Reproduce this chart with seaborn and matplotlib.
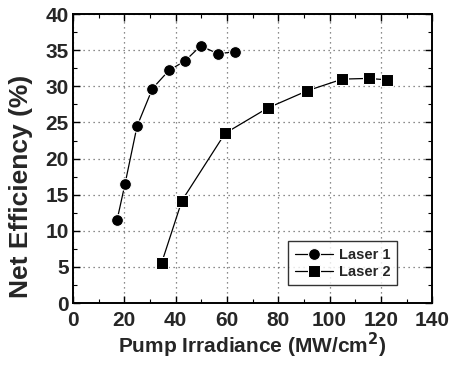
import matplotlib
matplotlib.use("Agg")
import matplotlib.pyplot as plt
from matplotlib.ticker import MultipleLocator
import seaborn as sns
import pandas as pd

sns.set_theme(style="ticks")
plt.rcParams['font.family'] = ['Liberation Sans', 'DejaVu Sans']
plt.rcParams['font.weight'] = 'bold'

# values
laser1_x = [17.2, 20.3, 25.0, 31.0, 37.4, 43.6, 49.8, 56.6, 63.0]
laser1_y = [11.5, 16.5, 24.5, 29.7, 32.2, 33.5, 35.6, 34.5, 34.8]
laser2_x = [34.6, 42.5, 59.3, 75.9, 91.4, 105.0, 115.2, 122.3]
laser2_y = [5.6, 14.2, 23.5, 27.0, 29.4, 31.0, 31.1, 30.9]

df = pd.concat([
    pd.DataFrame({'irr': laser1_x, 'eff': laser1_y, 'Laser': 'Laser 1'}),
    pd.DataFrame({'irr': laser2_x, 'eff': laser2_y, 'Laser': 'Laser 2'}),
])

fig = plt.figure(figsize=(4.53, 3.71), dpi=100)
ax = fig.add_axes([0.161, 0.183, 0.793, 0.779])

sns.lineplot(data=df, x='irr', y='eff', hue='Laser', style='Laser',
             markers={'Laser 1': 'o', 'Laser 2': 's'}, dashes=False,
             palette={'Laser 1': 'black', 'Laser 2': 'black'},
             markersize=8.5, linewidth=0.9, sort=False, ax=ax)

ax.set_xlim(0, 140)
ax.set_ylim(0, 40)
ax.xaxis.set_major_locator(MultipleLocator(20))
ax.xaxis.set_minor_locator(MultipleLocator(10))
ax.yaxis.set_major_locator(MultipleLocator(5))
ax.yaxis.set_minor_locator(MultipleLocator(2.5))
ax.tick_params(which='both', direction='in', top=True, right=True, color='black')
ax.tick_params(which='major', length=5, width=1, labelsize=15)
ax.tick_params(axis='x', which='major', pad=6)
ax.tick_params(axis='y', which='major', pad=3)
ax.tick_params(which='minor', length=3, width=0.8)
ax.grid(True, which='major', linestyle=(0, (1, 3)), color='0.4', linewidth=0.9)
for s in ax.spines.values():
    s.set_color('black')
    s.set_linewidth(1.4)

ax.set_xlabel('Pump Irradiance (MW/cm$^\\mathbf{2}$)', fontsize=15, fontweight='bold', labelpad=0)
ax.set_ylabel('Net Efficiency (%)', fontsize=19, fontweight='bold')
ax.yaxis.set_label_coords(-0.11, 0.405)

leg = ax.legend(loc='lower right', bbox_to_anchor=(0.902, 0.062), frameon=True, fancybox=False,
                edgecolor='black', fontsize=10.5, handlelength=2.6, borderpad=0.45,
                labelspacing=0.2, handletextpad=0.4, borderaxespad=0)
leg.get_frame().set_linewidth(1.0)
for t in leg.get_texts():
    t.set_fontweight('bold')

fig.savefig('out.png', dpi=100)
